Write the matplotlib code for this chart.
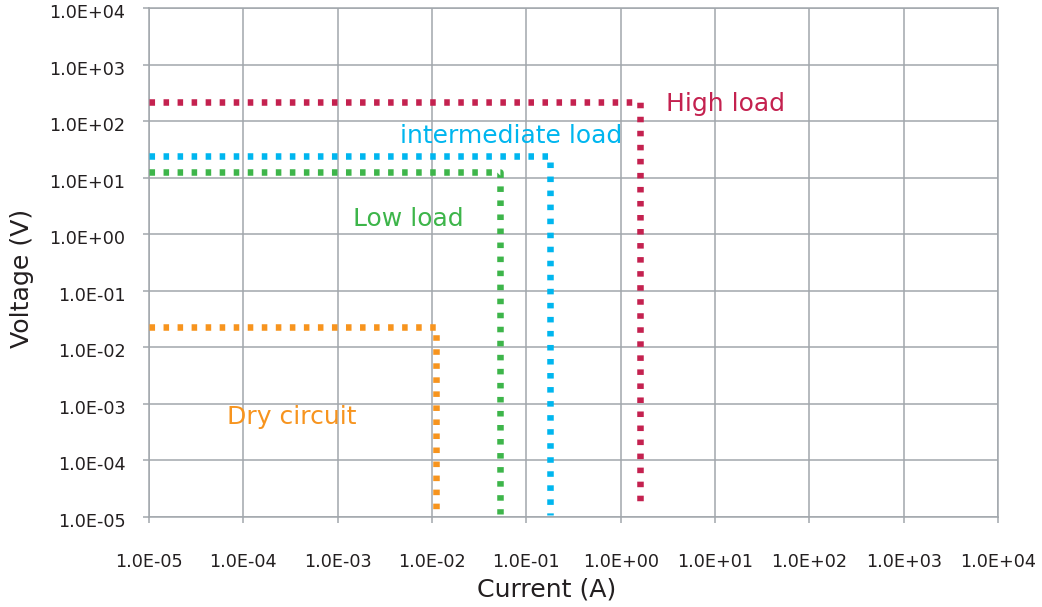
import matplotlib
matplotlib.use("Agg")
import matplotlib.pyplot as plt
import matplotlib.transforms as mtransforms
from matplotlib.ticker import FixedLocator, NullLocator

# ---- data ----
categories = ["Dry circuit", "Low load", "intermediate load", "High load"]
max_current = [0.011, 0.052, 0.18, 1.6]            # A (vertical segment position)
max_voltage = [0.023, 12.5, 24.0, 215.0]           # V (horizontal segment level)
end_voltage = [1.0e-5, 1.15e-5, 1.08e-5, 1.45e-5]  # V where the vertical segment stops
start_current = 1.0e-5
colors = ["#F7941E", "#3DB54A", "#00B6EF", "#C4214F"]

decades = list(range(-5, 5))
tick_values = [10.0 ** d for d in decades]
tick_labels = ["1.0E%s%02d" % ("+" if d >= 0 else "-", abs(d)) for d in decades]

# label positions in pixels (layout)
label_px = {
    "Dry circuit": (227, 424),
    "Low load": (353, 226),
    "intermediate load": (400, 143),
    "High load": (666, 111),
}

W, H = 1042, 607
fig = plt.figure(figsize=(W / 100, H / 100), dpi=100)
L, R, T, B = 149, 998, 8, 517
ax = fig.add_axes([L / W, 1 - B / H, (R - L) / W, (B - T) / H])

ax.set_xscale("log")
ax.set_yscale("log")
ax.set_xlim(1e-5, 1e4)
ax.set_ylim(1e-5, 1e4)

grid_c = "#A2A7AC"
ax.xaxis.set_major_locator(FixedLocator(tick_values))
ax.yaxis.set_major_locator(FixedLocator(tick_values))
ax.xaxis.set_minor_locator(NullLocator())
ax.yaxis.set_minor_locator(NullLocator())
ax.set_xticklabels(tick_labels)
ax.set_yticklabels(tick_labels)
ax.grid(True, color=grid_c, linewidth=1.1, zorder=0)
ax.set_axisbelow(True)
for s in ax.spines.values():
    s.set_color(grid_c)
    s.set_linewidth(1.1)

text_c = "#231F20"
ax.tick_params(axis="both", which="major", direction="out", length=4, width=1.1,
               color=grid_c, labelsize=12.7, labelcolor=text_c)
ax.tick_params(axis="x", pad=22)
ax.tick_params(axis="y", pad=13)
ax.tick_params(top=False, right=False)

shift = mtransforms.ScaledTranslation(0, -3 / 100, fig.dpi_scale_trans)
for lab in ax.get_yticklabels():
    lab.set_transform(lab.get_transform() + shift)

for name, ic, vc, ve, col in zip(categories, max_current, max_voltage, end_voltage, colors):
    ax.plot([start_current, ic, ic], [vc, vc, ve], color=col, linewidth=4.7,
            linestyle=(0, (0.85, 1.3)), dash_capstyle="butt", solid_joinstyle="miter",
            clip_on=False, zorder=3)
    px, py = label_px[name]
    fig.text(px / W, 1 - py / H, name, color=col, fontsize=18, ha="left", va="baseline")

fig.text(547 / W, 1 - 590 / H, "Current (A)", fontsize=18.2, color=text_c,
         ha="center", va="center")
fig.text(22 / W, 1 - 278 / H, "Voltage (V)", fontsize=18.2, color=text_c,
         ha="center", va="center", rotation=90)

fig.savefig("out.png", dpi=100, facecolor="white")
